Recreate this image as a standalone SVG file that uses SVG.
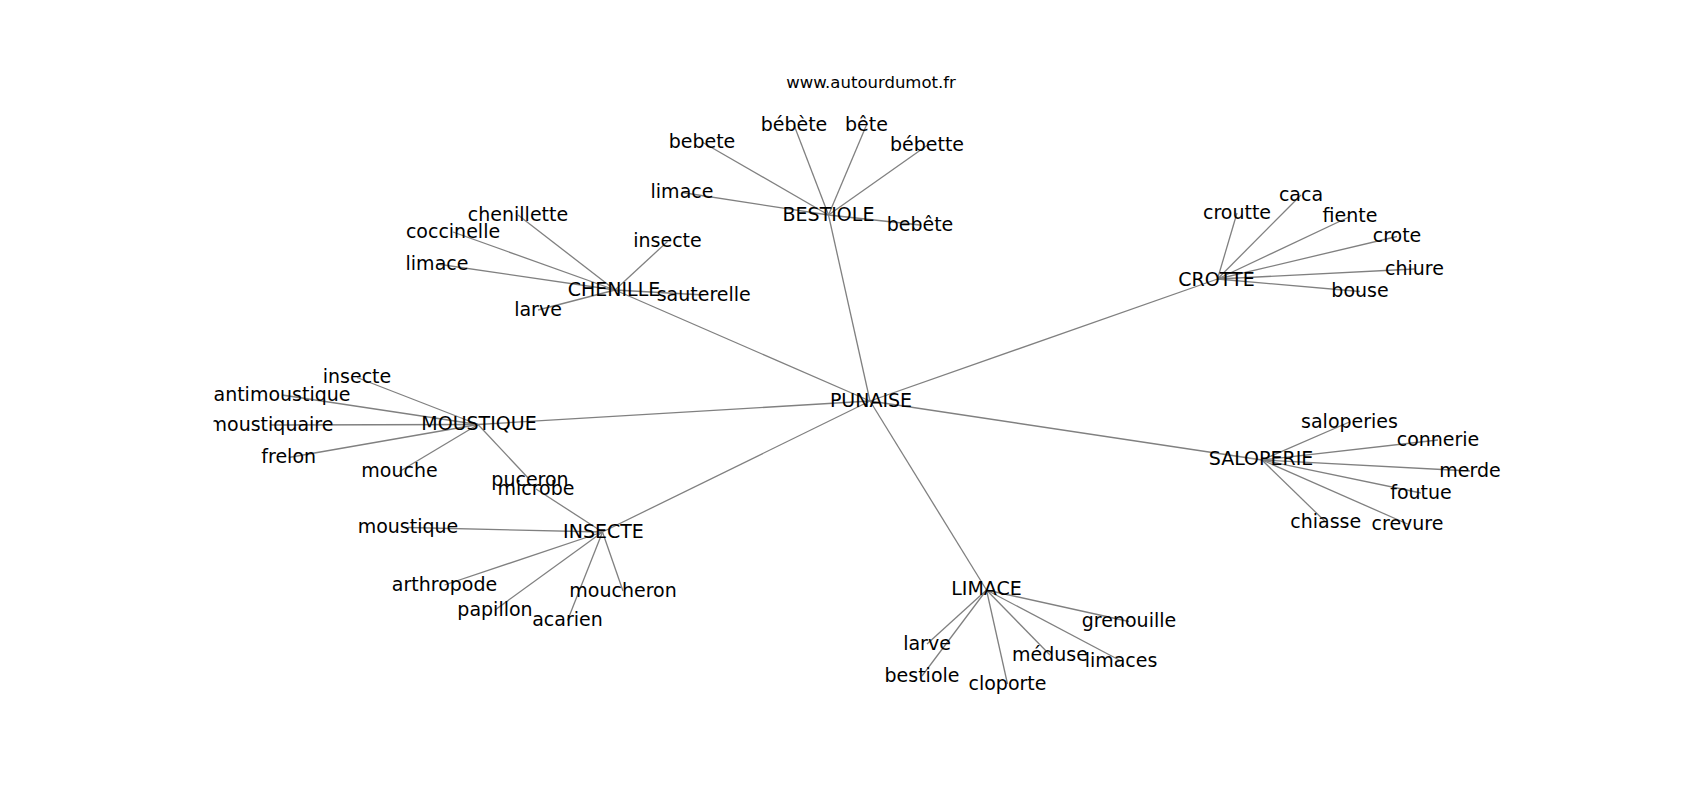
<svg xmlns="http://www.w3.org/2000/svg" width="1700" height="800" viewBox="0 0 1700 800">
<style>
.e{stroke:#808080;stroke-width:1.3;fill:none}
.t{font-family:"DejaVu Sans","Liberation Sans",sans-serif;font-size:19px;fill:#000;text-anchor:middle}
.title{font-family:"DejaVu Sans","Liberation Sans",sans-serif;font-size:16.5px;fill:#000;text-anchor:middle}
</style>
<defs><clipPath id="ax"><rect x="213.5" y="96" width="1316.5" height="616"/></clipPath></defs>
<rect width="1700" height="800" fill="#fff"/>
<text class="title" x="871" y="88">www.autourdumot.fr</text>
<g clip-path="url(#ax)">
<g id="edges">
<line class="e" x1="870" y1="401" x2="828.5" y2="215"/>
<line class="e" x1="870" y1="401" x2="615" y2="290"/>
<line class="e" x1="870" y1="401" x2="478" y2="424.5"/>
<line class="e" x1="870" y1="401" x2="602.5" y2="532"/>
<line class="e" x1="870" y1="401" x2="986.5" y2="590"/>
<line class="e" x1="870" y1="401" x2="1217.5" y2="279"/>
<line class="e" x1="870" y1="401" x2="1262" y2="460"/>
<line class="e" x1="828.5" y1="215" x2="702" y2="142"/>
<line class="e" x1="828.5" y1="215" x2="794" y2="125"/>
<line class="e" x1="828.5" y1="215" x2="866.5" y2="125"/>
<line class="e" x1="828.5" y1="215" x2="927" y2="145.5"/>
<line class="e" x1="828.5" y1="215" x2="682" y2="192.5"/>
<line class="e" x1="828.5" y1="215" x2="920" y2="225"/>
<line class="e" x1="615" y1="290" x2="518" y2="215"/>
<line class="e" x1="615" y1="290" x2="453" y2="232"/>
<line class="e" x1="615" y1="290" x2="437" y2="264"/>
<line class="e" x1="615" y1="290" x2="667.5" y2="241.5"/>
<line class="e" x1="615" y1="290" x2="703.7" y2="295"/>
<line class="e" x1="615" y1="290" x2="538" y2="310"/>
<line class="e" x1="478" y1="424.5" x2="357" y2="377.5"/>
<line class="e" x1="478" y1="424.5" x2="282" y2="395"/>
<line class="e" x1="478" y1="424.5" x2="271" y2="425"/>
<line class="e" x1="478" y1="424.5" x2="288.7" y2="457.5"/>
<line class="e" x1="478" y1="424.5" x2="399.5" y2="471.5"/>
<line class="e" x1="478" y1="424.5" x2="530" y2="480"/>
<line class="e" x1="602.5" y1="532" x2="536" y2="489"/>
<line class="e" x1="602.5" y1="532" x2="408" y2="527.5"/>
<line class="e" x1="602.5" y1="532" x2="444.5" y2="585"/>
<line class="e" x1="602.5" y1="532" x2="495" y2="610"/>
<line class="e" x1="602.5" y1="532" x2="567.5" y2="620.5"/>
<line class="e" x1="602.5" y1="532" x2="623" y2="591"/>
<line class="e" x1="986.5" y1="590" x2="1129" y2="621.5"/>
<line class="e" x1="986.5" y1="590" x2="927" y2="644"/>
<line class="e" x1="986.5" y1="590" x2="922" y2="676"/>
<line class="e" x1="986.5" y1="590" x2="1007.5" y2="684"/>
<line class="e" x1="986.5" y1="590" x2="1050" y2="655"/>
<line class="e" x1="986.5" y1="590" x2="1121" y2="661"/>
<line class="e" x1="1217.5" y1="279" x2="1237" y2="213"/>
<line class="e" x1="1217.5" y1="279" x2="1301" y2="195"/>
<line class="e" x1="1217.5" y1="279" x2="1350" y2="216.5"/>
<line class="e" x1="1217.5" y1="279" x2="1397" y2="236.5"/>
<line class="e" x1="1217.5" y1="279" x2="1414.5" y2="269"/>
<line class="e" x1="1217.5" y1="279" x2="1360" y2="291.5"/>
<line class="e" x1="1262" y1="460" x2="1349.5" y2="422"/>
<line class="e" x1="1262" y1="460" x2="1438" y2="440"/>
<line class="e" x1="1262" y1="460" x2="1470" y2="471"/>
<line class="e" x1="1262" y1="460" x2="1421" y2="493"/>
<line class="e" x1="1262" y1="460" x2="1325.7" y2="522"/>
<line class="e" x1="1262" y1="460" x2="1407.5" y2="524"/>
</g>
<g id="n-punaise"><text class="t" x="871" y="406.5">PUNAISE</text></g>
<g id="n-bestiole"><text class="t" x="828.5" y="221">BESTIOLE</text></g>
<g id="n-chenille"><text class="t" x="614" y="295.5">CHENILLE</text></g>
<g id="n-moustique"><text class="t" x="479" y="429.5">MOUSTIQUE</text></g>
<g id="n-insecte"><text class="t" x="603.5" y="537.5">INSECTE</text></g>
<g id="n-limace"><text class="t" x="986.5" y="594.5">LIMACE</text></g>
<g id="n-crotte"><text class="t" x="1216.5" y="285.5">CROTTE</text></g>
<g id="n-saloperie"><text class="t" x="1261" y="465">SALOPERIE</text></g>
<g id="n-bebete"><text class="t" x="702" y="147.5">bebete</text></g>
<g id="n-bebete2"><text class="t" x="794" y="130.5">bébète</text></g>
<g id="n-bete"><text class="t" x="866.5" y="130.5">bête</text></g>
<g id="n-bebette"><text class="t" x="927" y="151">bébette</text></g>
<g id="n-limace-b"><text class="t" x="682" y="198">limace</text></g>
<g id="n-bebete3"><text class="t" x="920" y="230.5">bebête</text></g>
<g id="n-chenillette"><text class="t" x="518" y="220.5">chenillette</text></g>
<g id="n-coccinelle"><text class="t" x="453" y="237.5">coccinelle</text></g>
<g id="n-limace-c"><text class="t" x="437" y="269.5">limace</text></g>
<g id="n-insecte-c"><text class="t" x="667.5" y="247">insecte</text></g>
<g id="n-sauterelle"><text class="t" x="703.7" y="300.5">sauterelle</text></g>
<g id="n-larve-c"><text class="t" x="538" y="315.5">larve</text></g>
<g id="n-insecte-m"><text class="t" x="357" y="383">insecte</text></g>
<g id="n-antimoustique"><text class="t" x="282" y="400.5">antimoustique</text></g>
<g id="n-moustiquaire"><text class="t" x="271" y="430.5">moustiquaire</text></g>
<g id="n-frelon"><text class="t" x="288.7" y="463">frelon</text></g>
<g id="n-mouche"><text class="t" x="399.5" y="477">mouche</text></g>
<g id="n-puceron"><text class="t" x="530" y="485.5">puceron</text></g>
<g id="n-microbe"><text class="t" x="536" y="494.5">microbe</text></g>
<g id="n-moustique-i"><text class="t" x="408" y="533">moustique</text></g>
<g id="n-arthropode"><text class="t" x="444.5" y="590.5">arthropode</text></g>
<g id="n-papillon"><text class="t" x="495" y="615.5">papillon</text></g>
<g id="n-acarien"><text class="t" x="567.5" y="626">acarien</text></g>
<g id="n-moucheron"><text class="t" x="623" y="596.5">moucheron</text></g>
<g id="n-grenouille"><text class="t" x="1129" y="627">grenouille</text></g>
<g id="n-larve-l"><text class="t" x="927" y="649.5">larve</text></g>
<g id="n-bestiole-l"><text class="t" x="922" y="681.5">bestiole</text></g>
<g id="n-cloporte"><text class="t" x="1007.5" y="689.5">cloporte</text></g>
<g id="n-meduse"><text class="t" x="1050" y="660.5">méduse</text></g>
<g id="n-limaces"><text class="t" x="1121" y="666.5">limaces</text></g>
<g id="n-croutte"><text class="t" x="1237" y="218.5">croutte</text></g>
<g id="n-caca"><text class="t" x="1301" y="200.5">caca</text></g>
<g id="n-fiente"><text class="t" x="1350" y="222">fiente</text></g>
<g id="n-crote"><text class="t" x="1397" y="242">crote</text></g>
<g id="n-chiure"><text class="t" x="1414.5" y="274.5">chiure</text></g>
<g id="n-bouse"><text class="t" x="1360" y="297">bouse</text></g>
<g id="n-saloperies"><text class="t" x="1349.5" y="427.5">saloperies</text></g>
<g id="n-connerie"><text class="t" x="1438" y="445.5">connerie</text></g>
<g id="n-merde"><text class="t" x="1470" y="476.5">merde</text></g>
<g id="n-foutue"><text class="t" x="1421" y="498.5">foutue</text></g>
<g id="n-chiasse"><text class="t" x="1325.7" y="527.5">chiasse</text></g>
<g id="n-crevure"><text class="t" x="1407.5" y="529.5">crevure</text></g>
</g>
</svg>
